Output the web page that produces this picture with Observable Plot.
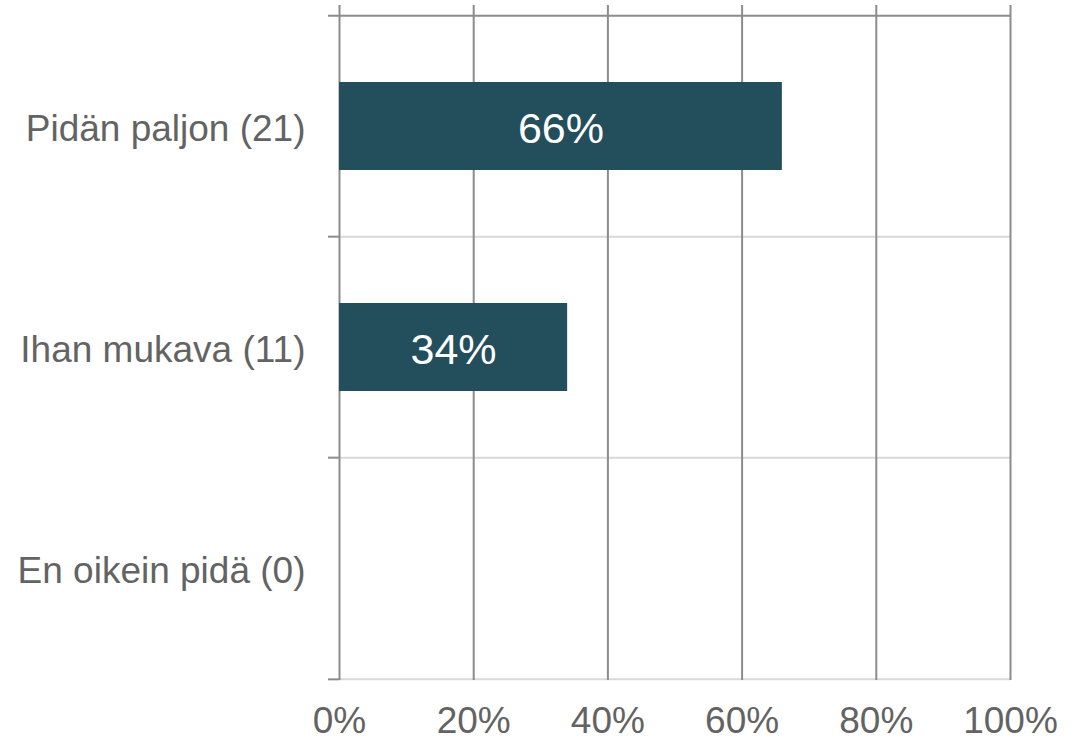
<!DOCTYPE html>
<html>
<head>
<meta charset="utf-8">
<script src="https://cdn.jsdelivr.net/npm/d3@7"></script>
<script src="https://cdn.jsdelivr.net/npm/@observablehq/plot@0.6"></script>
<style>
  html, body { margin: 0; padding: 0; background: #fff; }
</style>
</head>
<body>
<div id="chart"></div>
<script>
const categories = ["Pidän paljon (21)", "Ihan mukava (11)", "En oikein pidä (0)"];
const percents = [66, 34, 0];
const xTicks = [0, 20, 40, 60, 80, 100];

const data = categories.map((c, i) => ({category: c, value: percents[i]}));

const W = 1084, H = 740;
const mTop = 15, mBottom = 60, mLeft = 339, mRight = 74;
const step = (H - mTop - mBottom) / categories.length;

const dark = "#8c8c8c";
const light = "#d9d9d9";

const chart = Plot.plot({
  width: W,
  height: H,
  marginTop: mTop,
  marginBottom: mBottom,
  marginLeft: mLeft,
  marginRight: mRight,
  style: {fontFamily: "'Liberation Sans', Arial, sans-serif", fontSize: "37px", color: "#636363", background: "#fff"},
  x: {domain: [0, 100], axis: null, label: null},
  y: {domain: categories, paddingInner: 0.6, paddingOuter: 0.3, axis: null, label: null},
  marks: [
    Plot.ruleY(categories.slice(1), {y: d => d, dy: -step / 2, stroke: light, strokeWidth: 2}),
    Plot.ruleY(categories.slice(-1), {y: d => d, dy: step / 2, stroke: light, strokeWidth: 2}),
    Plot.ruleY(categories.slice(0, 1), {y: d => d, dy: -step / 2, stroke: dark, strokeWidth: 2, insetLeft: -11}),
    Plot.ruleY(categories.slice(1), {y: d => d, x1: 0, x2: 0, dy: -step / 2, stroke: dark, strokeWidth: 2, insetLeft: -11}),
    Plot.ruleY(categories.slice(-1), {y: d => d, x1: 0, x2: 0, dy: step / 2, stroke: dark, strokeWidth: 2, insetLeft: -11}),
    Plot.ruleX(xTicks, {x: d => d, stroke: dark, strokeWidth: 2, insetTop: -10}),
    Plot.barX(data, {y: "category", x: "value", fill: "#234e5b"}),
    Plot.text(data.filter(d => d.value > 0), {
      y: "category",
      x: d => d.value / 2,
      text: d => d.value + "%",
      fill: "#fff",
      fontSize: 43,
      dy: 3
    }),
    Plot.axisY({tickSize: 0, tickPadding: 34, fontSize: 37, label: null, dy: 3}),
    Plot.axisX(xTicks, {tickSize: 0, tickPadding: 26, tickFormat: d => d + "%", fontSize: 37, label: null})
  ]
});

document.getElementById("chart").appendChild(chart);
</script>
</body>
</html>
